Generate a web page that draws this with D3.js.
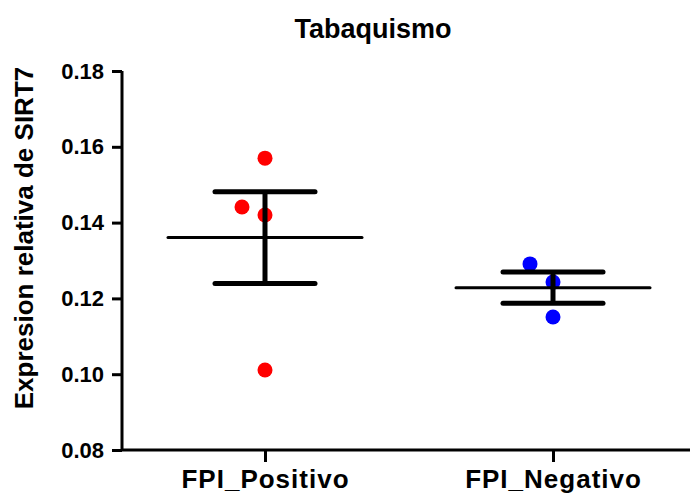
<!DOCTYPE html>
<html lang="es">

<head>
    <meta charset="UTF-8">
    <title>Tabaquismo</title>
    <style>
        body { margin: 0; background: #fff; }
        text { font-family: "Liberation Sans", Arial, sans-serif; font-weight: bold; fill: #000; }
    </style>
</head>

<body>
    <script src="https://cdn.jsdelivr.net/npm/d3@7"></script>
    <script>
        // data
        const categories = ['FPI_Positivo', 'FPI_Negativo'];
        const colors = ['#ff0000', '#0000ff'];
        const positivo = [0.157, 0.1441, 0.142, 0.1011];
        const negativo = [0.1291, 0.1243, 0.1151];
        const yTicks = [0.08, 0.10, 0.12, 0.14, 0.16, 0.18];

        const groups = [positivo, negativo];

        const W = 690, H = 493;
        const svg = d3.select('body').append('svg')
            .attr('width', W)
            .attr('height', H);

        const y = d3.scaleLinear().domain([0.08, 0.18]).range([450, 71]);
        const x = d3.scalePoint().domain(categories).range([265, 553]);
        // points that overlap get pushed sideways
        const jitter = [[0, -23, 0, 0], [-23, 0, 0]];

        // title
        svg.append('text')
            .attr('x', 373).attr('y', 38)
            .attr('text-anchor', 'middle')
            .style('font-size', '27px')
            .text('Tabaquismo');

        // y axis
        const yAxis = svg.append('g')
            .attr('transform', 'translate(122,0)')
            .call(d3.axisLeft(y).tickValues(yTicks).tickFormat(d3.format('.2f')).tickSize(10).tickPadding(8));
        yAxis.select('.domain').attr('stroke-width', 3).attr('d', 'M0,71V450');
        yAxis.selectAll('.tick line').attr('stroke-width', 3);
        yAxis.selectAll('.tick text').style('font-size', '22px');

        // x axis
        const xAxis = svg.append('g')
            .attr('transform', 'translate(0,450)')
            .call(d3.axisBottom(x).tickSize(12).tickPadding(8));
        xAxis.select('.domain').attr('stroke-width', 3).attr('d', 'M122,0H690');
        xAxis.selectAll('.tick line').attr('stroke-width', 3);
        xAxis.selectAll('.tick text').style('font-size', '26px').style('letter-spacing', '1px');

        // y axis title
        svg.append('text')
            .attr('transform', 'translate(33,238) rotate(-90)')
            .attr('text-anchor', 'middle')
            .style('font-size', '26px')
            .text('Expresion relativa de SIRT7');

        groups.forEach((vals, gi) => {
            const cx = x(categories[gi]);
            const mean = d3.mean(vals);
            const sem = d3.deviation(vals) / Math.sqrt(vals.length);
            const g = svg.append('g');

            g.selectAll('circle')
                .data(vals)
                .join('circle')
                .attr('cx', (d, i) => cx + jitter[gi][i])
                .attr('cy', d => y(d))
                .attr('r', 7.5)
                .attr('fill', colors[gi]);

            // mean line
            g.append('line')
                .attr('x1', cx - 97).attr('x2', cx + 97)
                .attr('y1', y(mean)).attr('y2', y(mean))
                .attr('stroke', '#000').attr('stroke-width', 3).attr('stroke-linecap', 'round');

            // sem bar
            g.append('line')
                .attr('x1', cx).attr('x2', cx)
                .attr('y1', y(mean + sem)).attr('y2', y(mean - sem))
                .attr('stroke', '#000').attr('stroke-width', 5);
            [mean + sem, mean - sem].forEach(v => {
                g.append('line')
                    .attr('x1', cx - 50).attr('x2', cx + 50)
                    .attr('y1', y(v)).attr('y2', y(v))
                    .attr('stroke', '#000').attr('stroke-width', 5).attr('stroke-linecap', 'round');
            });
        });
    </script>
</body>

</html>
